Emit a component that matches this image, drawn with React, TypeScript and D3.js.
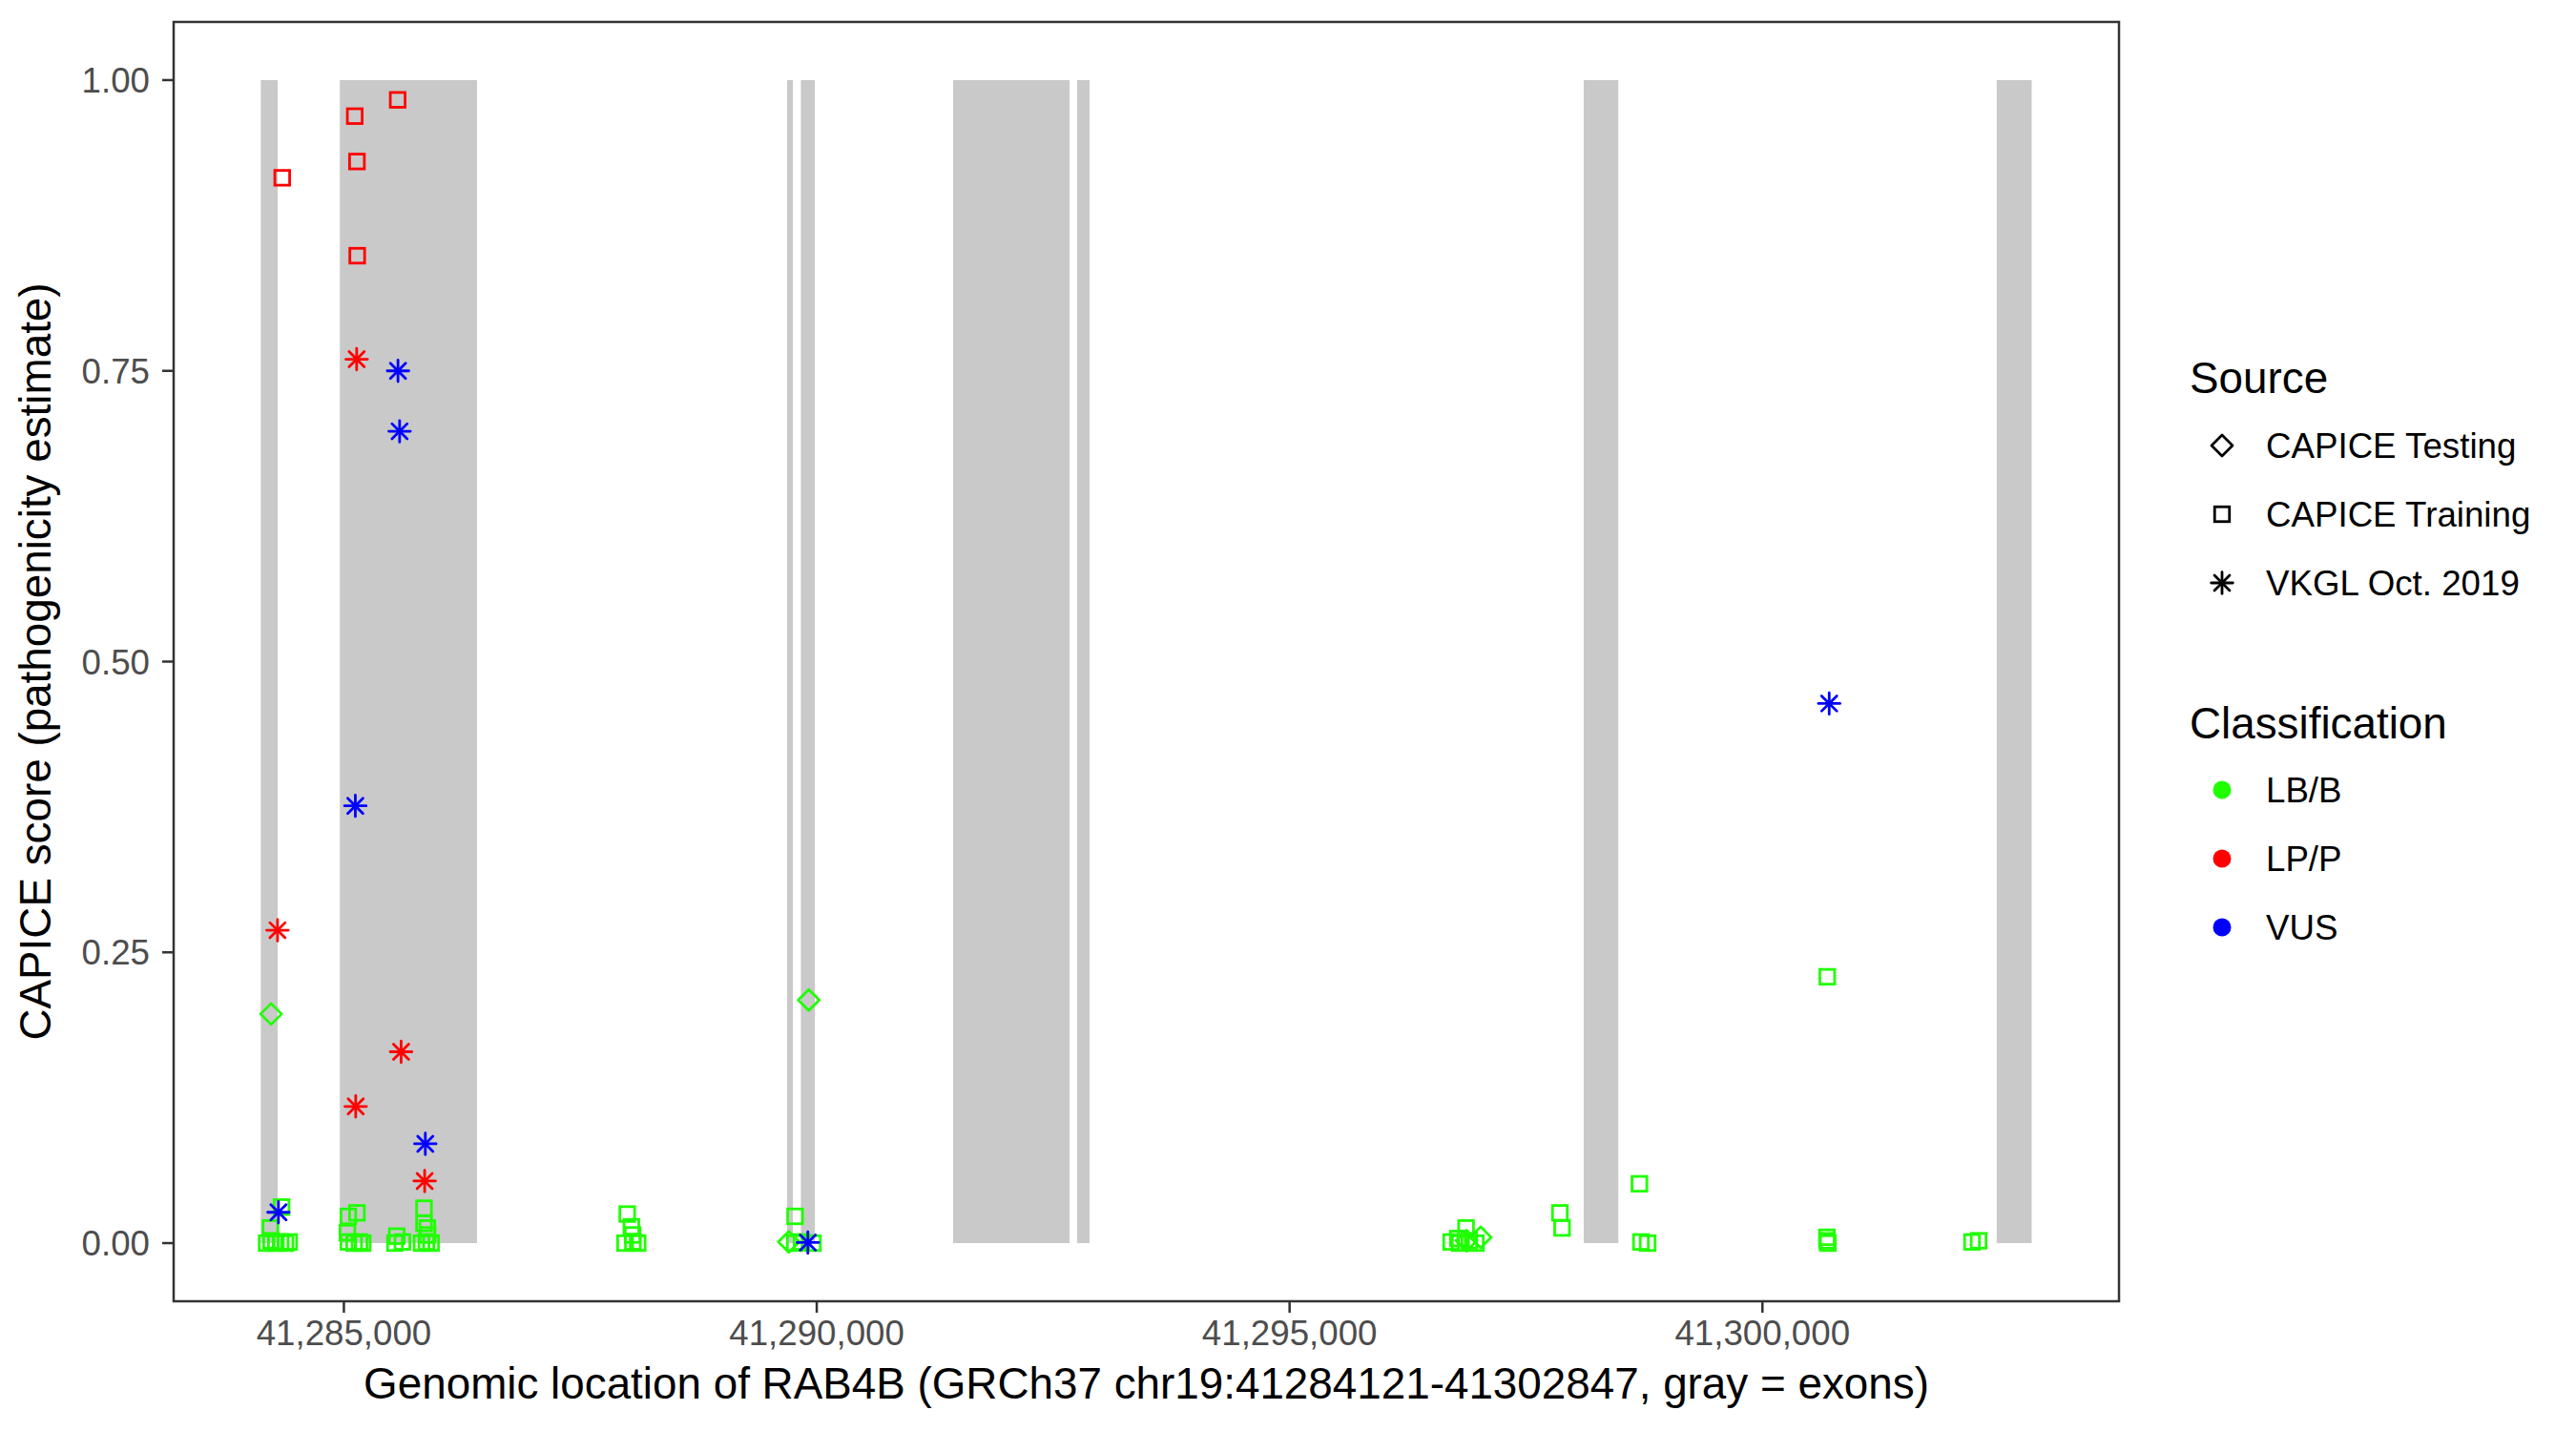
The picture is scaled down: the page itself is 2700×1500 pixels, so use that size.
import React from "react";
import * as d3 from "d3";

// ---- Data ----
const exonStarts = [41284121, 41284957, 41289687, 41289832, 41291442, 41292754, 41298110, 41302477];
const exonEnds = [41284300, 41286408, 41289748, 41289980, 41292673, 41292885, 41298476, 41302847];

// [genomic position, CAPICE score]
const lbbTraining: [number, number][] = [
  [41284341, 0.031], [41284223, 0.013], [41284183, 0.0], [41284230, 0.002], [41284281, 0.0],
  [41284331, 0.001], [41284382, 0.0], [41284422, 0.001],
  [41285047, 0.023], [41285138, 0.026], [41285037, 0.009], [41285047, 0.001], [41285108, 0.0],
  [41285165, 0.001], [41285199, 0.0],
  [41285559, 0.006], [41285619, 0.001], [41285540, 0.0],
  [41285847, 0.030], [41285847, 0.017], [41285882, 0.013], [41285885, 0.007], [41285821, 0.0],
  [41285872, 0.001], [41285922, 0.0],
  [41287996, 0.025], [41288040, 0.014], [41288053, 0.007], [41287973, 0.0], [41288056, 0.001],
  [41288107, 0.0],
  [41289771, 0.023], [41289768, 0.0], [41289839, 0.001], [41289960, 0.0],
  [41296866, 0.013], [41296708, 0.001], [41296799, 0.0], [41296900, 0.002], [41296970, 0.0],
  [41296779, 0.004],
  [41297858, 0.026], [41297881, 0.013],
  [41298699, 0.051], [41298715, 0.001], [41298786, 0.0],
  [41300685, 0.229], [41300682, 0.005], [41300683, 0.002], [41300692, 0.0],
  [41302216, 0.001], [41302286, 0.002],
];
const lbbTesting: [number, number][] = [
  [41284230, 0.197], [41289916, 0.209], [41289705, 0.001], [41296870, 0.002], [41297021, 0.005],
];
const lppTraining: [number, number][] = [
  [41285569, 0.983], [41285115, 0.969], [41285138, 0.930], [41284348, 0.916], [41285141, 0.849],
];
const lppVkgl: [number, number][] = [
  [41285135, 0.760], [41284298, 0.269], [41285605, 0.1645], [41285125, 0.1175], [41285854, 0.0534],
];
const vusVkgl: [number, number][] = [
  [41285572, 0.750], [41285589, 0.698], [41285121, 0.376], [41285861, 0.0854], [41284308, 0.0265],
  [41289906, 0.0005], [41300706, 0.464],
];

const xTicks = [41285000, 41290000, 41295000, 41300000];
const yTicks = [0, 0.25, 0.5, 0.75, 1.0];
const sourceLabels = ["CAPICE Testing", "CAPICE Training", "VKGL Oct. 2019"];
const classLabels = ["LB/B", "LP/P", "VUS"];
const classColors = ["#1FFF00", "#FF0000", "#0000FF"];

const geneStart = 41284121;
const geneEnd = 41302847;

// ---- Layout ----
const W = 2700, H = 1500;
const P = { left: 182, right: 2221, top: 23, bottom: 1364 };

const FONT = "'Liberation Sans', Arial, Helvetica, sans-serif";

function Marker({ shape, x, y, color }: { shape: string; x: number; y: number; color: string }) {
  const sw = 2.8;
  if (shape === "square") {
    const s = 15.5;
    return <rect x={x - s / 2} y={y - s / 2} width={s} height={s} fill="none" stroke={color} strokeWidth={sw} />;
  }
  if (shape === "diamond") {
    const r = 11;
    return (
      <polygon
        points={`${x},${y - r} ${x + r},${y} ${x},${y + r} ${x - r},${y}`}
        fill="none"
        stroke={color}
        strokeWidth={sw}
        strokeLinejoin="round"
      />
    );
  }
  // asterisk (+ and x)
  const a = 11.3;
  const d = a / Math.SQRT2;
  return (
    <g stroke={color} strokeWidth={sw} strokeLinecap="round">
      <line x1={x - a} y1={y} x2={x + a} y2={y} />
      <line x1={x} y1={y - a} x2={x} y2={y + a} />
      <line x1={x - d} y1={y - d} x2={x + d} y2={y + d} />
      <line x1={x - d} y1={y + d} x2={x + d} y2={y - d} />
    </g>
  );
}

export default function App() {
  const span = geneEnd - geneStart;
  const x = d3.scaleLinear().domain([geneStart - span * 0.05 + 15, geneEnd + span * 0.05 - 13]).range([P.left, P.right]);
  const y = d3.scaleLinear().domain([-0.05, 1.05]).range([P.bottom, P.top]);
  const fmtX = d3.format(",");
  const fmtY = d3.format(".2f");

  const groups = [
    { data: lbbTraining, shape: "square", color: classColors[0] },
    { data: lbbTesting, shape: "diamond", color: classColors[0] },
    { data: lppTraining, shape: "square", color: classColors[1] },
    { data: lppVkgl, shape: "asterisk", color: classColors[1] },
    { data: vusVkgl, shape: "asterisk", color: classColors[2] },
  ];

  const legX = 2329;
  const sourceShapes = ["diamond", "square", "asterisk"];

  return (
    <svg width={W} height={H} style={{ position: "absolute", left: 0, top: 0, background: "#fff" }} fontFamily={FONT}>
      <rect x={0} y={0} width={W} height={H} fill="#fff" />
      {/* exons */}
      {exonStarts.map((s, i) => (
        <rect key={"ex" + i} x={x(s)} y={y(1)} width={x(exonEnds[i]) - x(s)} height={y(0) - y(1)} fill="#C9C9C9" />
      ))}
      {/* points */}
      {groups.map((g, gi) =>
        g.data.map((d, i) => <Marker key={gi + "-" + i} shape={g.shape} x={x(d[0])} y={y(d[1])} color={g.color} />)
      )}
      {/* panel border */}
      <rect x={P.left} y={P.top} width={P.right - P.left} height={P.bottom - P.top} fill="none" stroke="#333333" strokeWidth={2.5} />
      {/* x axis */}
      {xTicks.map((t) => (
        <g key={"xt" + t}>
          <line x1={x(t)} x2={x(t)} y1={P.bottom} y2={P.bottom + 12} stroke="#333333" strokeWidth={2.5} />
          <text x={x(t)} y={1410} textAnchor="middle" fontSize={36.7} fill="#4D4D4D">
            {fmtX(t)}
          </text>
        </g>
      ))}
      {/* y axis */}
      {yTicks.map((t) => (
        <g key={"yt" + t}>
          <line x1={P.left - 12} x2={P.left} y1={y(t)} y2={y(t)} stroke="#333333" strokeWidth={2.5} />
          <text x={157} y={y(t) + 13} textAnchor="end" fontSize={36.7} fill="#4D4D4D">
            {fmtY(t)}
          </text>
        </g>
      ))}
      {/* axis titles */}
      <text x={(P.left + P.right) / 2} y={1466} textAnchor="middle" fontSize={45.8} fill="#000">
        Genomic location of RAB4B (GRCh37 chr19:41284121-41302847, gray = exons)
      </text>
      <text transform={`translate(53, ${(P.top + P.bottom) / 2}) rotate(-90)`} textAnchor="middle" fontSize={45.8} fill="#000">
        CAPICE score (pathogenicity estimate)
      </text>
      {/* legend: Source */}
      <text x={2295} y={412} fontSize={45.8} fill="#000">Source</text>
      {sourceLabels.map((l, i) => {
        const cy = 467 + i * 72;
        return (
          <g key={"src" + l}>
            <Marker shape={sourceShapes[i]} x={legX} y={cy} color="#000" />
            <text x={2375} y={cy + 13} fontSize={36.7} fill="#000">{l}</text>
          </g>
        );
      })}
      {/* legend: Classification */}
      <text x={2295} y={774} fontSize={45.8} fill="#000">Classification</text>
      {classLabels.map((l, i) => {
        const cy = 828 + i * 72;
        return (
          <g key={"cls" + l}>
            <circle cx={legX} cy={cy} r={9.5} fill={classColors[i]} />
            <text x={2375} y={cy + 13} fontSize={36.7} fill="#000">{l}</text>
          </g>
        );
      })}
    </svg>
  );
}
